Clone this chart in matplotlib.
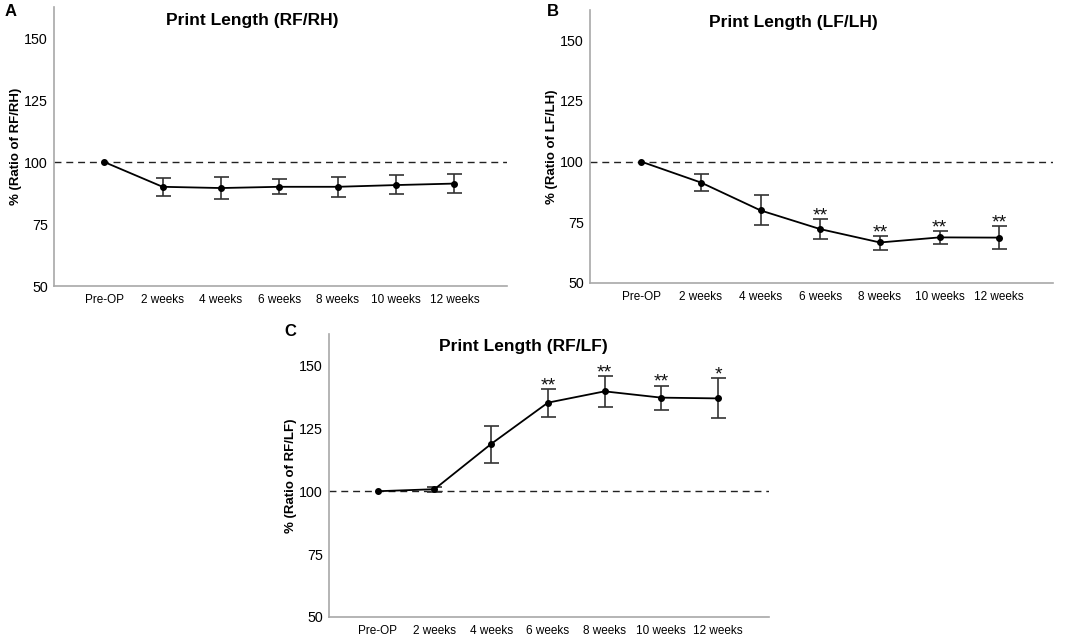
import matplotlib
matplotlib.use("Agg")
import matplotlib.pyplot as plt
import numpy as np

plt.rcParams['font.family'] = ['Liberation Sans', 'DejaVu Sans']

categories = ["Pre-OP", "2 weeks", "4 weeks", "6 weeks", "8 weeks", "10 weeks", "12 weeks"]

# Panel A: RF/RH
a_mean = [100.0, 90.0, 89.5, 90.0, 90.0, 90.7, 91.3]
a_upper = [100.0, 93.7, 93.8, 93.0, 93.8, 94.6, 95.2]
a_lower = [100.0, 86.4, 85.1, 87.2, 86.0, 87.0, 87.4]
a_stars = ["", "", "", "", "", "", ""]

# Panel B: LF/LH
b_mean = [100.0, 91.4, 79.9, 72.2, 66.7, 68.8, 68.7]
b_upper = [100.0, 94.8, 86.1, 76.5, 69.3, 71.4, 73.3]
b_lower = [100.0, 87.9, 73.9, 68.0, 63.7, 66.1, 64.1]
b_stars = ["", "", "", "**", "**", "**", "**"]

# Panel C: RF/LF
c_mean = [100.0, 100.8, 118.8, 135.2, 139.7, 137.2, 136.9]
c_upper = [100.0, 101.8, 126.1, 140.6, 145.8, 142.0, 144.9]
c_lower = [100.0, 99.5, 111.3, 129.5, 133.5, 132.1, 129.1]
c_stars = ["", "", "", "**", "**", "**", "*"]

yticks = [50, 75, 100, 125, 150]

W, H = 1084, 641
fig = plt.figure(figsize=(W / 100, H / 100), dpi=100)


def px_axes(left, top, right, bottom):
    return fig.add_axes([left / W, 1 - bottom / H, (right - left) / W, (bottom - top) / H])


def draw(ax, mean, upper, lower, stars, title, ylabel, title_x, title_y, label, lx, ly):
    x = np.arange(len(categories))
    mean = np.array(mean)
    yerr = np.vstack([mean - np.array(lower), np.array(upper) - mean])
    ax.axhline(100, color='#222222', lw=1.0, ls=(0, (5, 3.5)), zorder=1)
    ax.errorbar(x[1:], mean[1:], yerr=yerr[:, 1:], fmt='none', ecolor='#333333',
                elinewidth=1.2, capsize=5.4, capthick=1.2, zorder=2)
    ax.plot(x, mean, color='black', lw=1.3, marker='o', ms=4, zorder=3)
    for xi, up, s in zip(x, upper, stars):
        if s:
            ax.annotate(s, xy=(xi, up), xytext=(0, -1.0), textcoords='offset points',
                        ha='center', va='baseline', fontsize=14, color='#111111')
    ax.set_xlim(-0.86, 6.9)
    ax.set_ylim(50, 162.5)
    ax.set_yticks(yticks)
    ax.set_xticks(x)
    ax.set_xticklabels(categories, fontsize=8.5)
    ax.tick_params(axis='both', length=0, colors='black')
    ax.tick_params(axis='x', pad=6)
    ax.tick_params(axis='y', labelsize=10.3, pad=4.5)
    for sp in ['top', 'right']:
        ax.spines[sp].set_visible(False)
    for sp in ['left', 'bottom']:
        ax.spines[sp].set_color('#a8a8a8')
        ax.spines[sp].set_linewidth(1.2)
    ax.set_ylabel(ylabel, fontsize=9.5, fontweight='bold', labelpad=1.5)
    fig.text(title_x / W, 1 - title_y / H, title, ha='center', va='center',
             fontsize=12.5, fontweight='bold')
    fig.text(lx / W, 1 - ly / H, label, ha='left', va='center', fontsize=12,
             fontweight='bold')


axA = px_axes(54, 7, 507, 286)
draw(axA, a_mean, a_upper, a_lower, a_stars, "Print Length (RF/RH)", "% (Ratio of RF/RH)",
     252, 21, "A", 5, 11)

axB = px_axes(590, 10, 1053, 283)
draw(axB, b_mean, b_upper, b_lower, b_stars, "Print Length (LF/LH)", "% (Ratio of LF/LH)",
     793, 22, "B", 547, 11)

axC = px_axes(329, 334, 769, 617)
draw(axC, c_mean, c_upper, c_lower, c_stars, "Print Length (RF/LF)", "% (Ratio of RF/LF)",
     523, 346, "C", 284, 331)

fig.savefig("out.png", dpi=100)
